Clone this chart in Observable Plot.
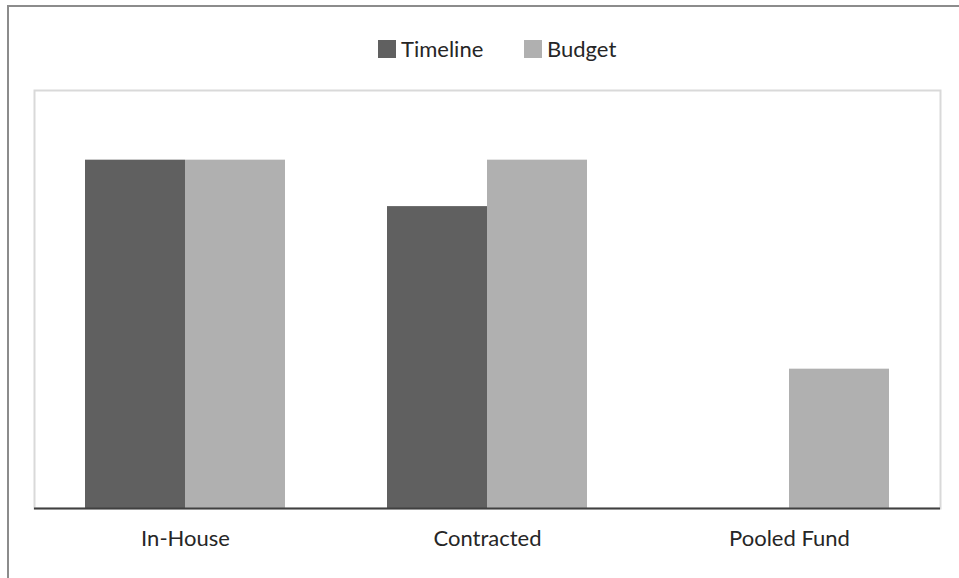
<!DOCTYPE html>
<html>
<head>
<meta charset="utf-8">
<script src="https://cdn.jsdelivr.net/npm/d3@7"></script>
<script src="https://cdn.jsdelivr.net/npm/@observablehq/plot@0.6"></script>
<style>
  html, body { margin: 0; padding: 0; background: #fff; }
  body { width: 959px; height: 578px; position: relative; overflow: hidden; font-family: Lato, "Open Sans", sans-serif; }
  #outer { position: absolute; left: 7px; top: 5px; width: 1000px; height: 700px; border-left: 2px solid #8c8c8c; border-top: 2px solid #8c8c8c; box-sizing: border-box; }
  #legend { position: absolute; left: 0; top: 0; width: 959px; height: 80px; font-size: 22px; color: #262626; }
  #legend .item { position: absolute; top: 35px; display: flex; align-items: center; }
  #legend .sw { width: 18px; height: 18px; margin-right: 5px; }
  #chart { position: absolute; left: 0; top: 80px; }
</style>
</head>
<body>
<div id="outer"></div>
<div id="legend"></div>
<div id="chart"></div>
<script>
const categories = ["In-House", "Contracted", "Pooled Fund"];
const series = ["Timeline", "Budget"];
const timelineValues = [15, 13, 0];
const budgetValues = [15, 15, 6];
const seriesColors = ["#606060", "#b0b0b0"];

const data = categories.flatMap((c, i) => [
  {category: c, series: "Timeline", value: timelineValues[i]},
  {category: c, series: "Budget", value: budgetValues[i]}
]);

// legend
const legendLeft = [378, 524];
const legend = document.getElementById("legend");
series.forEach((s, i) => {
  const item = document.createElement("div");
  item.className = "item";
  item.style.left = legendLeft[i] + "px";
  const sw = document.createElement("div");
  sw.className = "sw";
  sw.style.background = seriesColors[i];
  const t = document.createElement("span");
  t.textContent = s;
  item.appendChild(sw); item.appendChild(t);
  legend.appendChild(item);
});

const chart = Plot.plot({
  width: 959,
  height: 498,
  marginTop: 10,
  marginBottom: 70,
  marginLeft: 33,
  marginRight: 19,
  style: {fontFamily: "Lato, 'Open Sans', sans-serif", fontSize: "22px", color: "#262626", background: "transparent"},
  facet: {data, x: "category", label: null},
  fx: {domain: categories, padding: 0, label: null, axis: "bottom", tickSize: 0, tickPadding: 22},
  x: {domain: series, paddingInner: 0, paddingOuter: 0.51, round: false, axis: null},
  y: {domain: [0, 18], axis: null},
  color: {domain: series, range: seriesColors},
  marks: [
    Plot.frame({stroke: "#d9d9d9", strokeWidth: 2, facet: "super"}),
    Plot.barY(data, {x: "series", y: "value", fill: "series", inset: 0}),
    Plot.ruleY([0], {stroke: "#404040", strokeWidth: 2})
  ]
});
document.getElementById("chart").appendChild(chart);
</script>
</body>
</html>
